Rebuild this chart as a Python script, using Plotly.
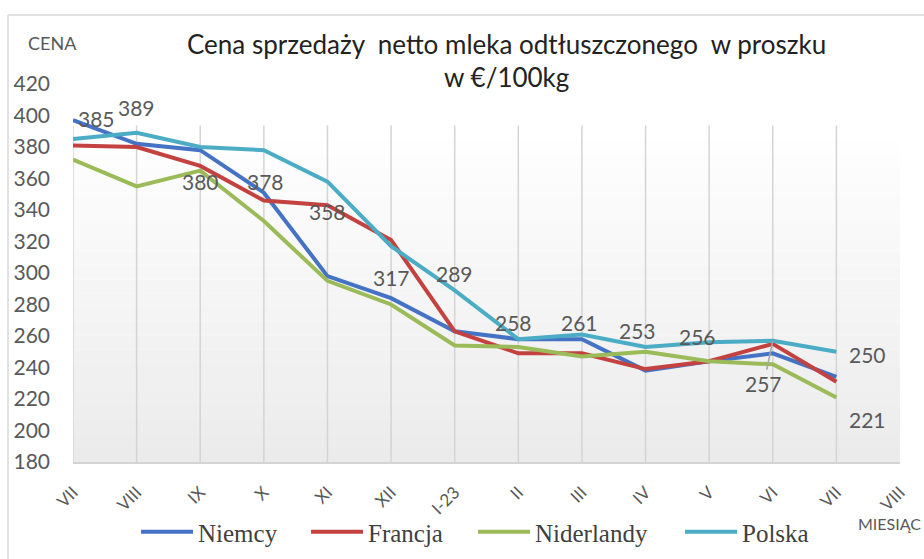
import plotly.graph_objects as go

months = ["VII", "VIII", "IX", "X", "XI", "XII", "I-23", "II", "III", "IV", "V", "VI", "VII", "VIII"]
niemcy = [397, 382, 378, 351, 298, 284, 263, 258, 258, 238, 244, 249, 234]
francja = [381, 380, 368, 346, 343, 321, 263, 249, 249, 239, 244, 255, 231]
niderlandy = [372, 355, 365, 333, 295, 280, 254, 253, 247, 250, 244, 242, 221]
polska = [385, 389, 380, 378, 358, 317, 289, 258, 261, 253, 256, 257, 250]
y_ticks = [180, 200, 220, 240, 260, 280, 300, 320, 340, 360, 380, 400, 420]

series = [
    ("Niemcy", niemcy, "#4472C4"),
    ("Francja", francja, "#C3423F"),
    ("Niderlandy", niderlandy, "#9BBB59"),
    ("Polska", polska, "#4BACC6"),
]
legend_left_px = [136, 306, 473, 680]

W, H = 924, 559
L, R, T, B = 73, 900, 84, 462


def px(x):
    return (x - L) / (R - L)


def py(y):
    return (B - y) / (B - T)


fig = go.Figure()

legend_ids = ["legend", "legend2", "legend3", "legend4"]
for (name, vals, col), lid in zip(series, legend_ids):
    fig.add_trace(go.Scatter(
        x=list(range(len(vals))), y=vals, name=name, mode="lines",
        line=dict(color=col, width=4), cliponaxis=False, legend=lid,
    ))

shapes = []
n = 24
top_frac = 0.89
for k in range(n):
    c0 = k / n
    g = int(round(235 + (255 - 235) * (c0 + 0.5 / n)))
    shapes.append(dict(type="rect", xref="x domain", yref="y domain",
                       x0=0, x1=1, y0=top_frac * k / n, y1=top_frac * (k + 1) / n,
                       fillcolor=f"rgb({g},{g},{g})", line=dict(width=0), layer="below"))
for i in range(len(months) - 1):
    shapes.append(dict(type="line", xref="x", yref="y domain", x0=i, x1=i,
                       y0=0, y1=top_frac, line=dict(color="#D4D4D4", width=1.5),
                       layer="below"))
shapes.append(dict(type="line", xref="paper", yref="paper", x0=px(8), x1=px(W),
                   y0=py(15), y1=py(15), line=dict(color="#D9D9D9", width=1.5)))
shapes.append(dict(type="line", xref="paper", yref="paper", x0=px(8), x1=px(8),
                   y0=py(15), y1=py(H), line=dict(color="#D9D9D9", width=1.5)))

label_font = dict(family="Lato, sans-serif", size=21, color="#595959")
offsets = [(23, -21), (0, -25), (0, 34), (2, 31), (0, 30), (0, 31), (0, -17),
           (-5, -17), (-2, -12), (-8, -17), (-12, -6), None, (31, 3)]
annotations = []
for i, v in enumerate(polska):
    off = offsets[i]
    if off is None:
        annotations.append(dict(x=i, y=v, xref="x", yref="y", text=str(v),
                                showarrow=True, arrowhead=0, arrowwidth=1.5,
                                arrowcolor="#A6A6A6", ax=-9, ay=43,
                                font=label_font, standoff=0))
    else:
        annotations.append(dict(x=i, y=v, xref="x", yref="y", text=str(v),
                                showarrow=False, xshift=off[0], yshift=-off[1],
                                font=label_font))
last = len(niderlandy) - 1
annotations.append(dict(x=last, y=niderlandy[last], xref="x", yref="y",
                        text=str(niderlandy[last]), showarrow=False,
                        xshift=31, yshift=-22, font=label_font))
annotations.append(dict(x=px(26), y=py(43), xref="paper", yref="paper", text="CENA",
                        showarrow=False, xanchor="left", yanchor="middle",
                        font=dict(family="Lato, sans-serif", size=18, color="#595959")))
annotations.append(dict(x=px(856), y=py(523), xref="paper", yref="paper", text="MIESIĄC",
                        showarrow=False, xanchor="left", yanchor="middle",
                        font=dict(family="Lato, sans-serif", size=16, color="#595959")))
title_font = dict(family="Lato, sans-serif", size=26, color="#222222")
annotations.append(dict(x=px(506), y=py(44), xref="paper", yref="paper",
                        text="Cena sprzedaży  netto mleka odtłuszczonego  w proszku",
                        showarrow=False, xanchor="center", yanchor="middle", font=title_font))
annotations.append(dict(x=px(506), y=py(77), xref="paper", yref="paper",
                        text="w €/100kg",
                        showarrow=False, xanchor="center", yanchor="middle", font=title_font))

legend_common = dict(orientation="h", yanchor="middle", y=py(532), xanchor="left",
                     font=dict(family="Liberation Serif, serif", size=25, color="#404040"),
                     bgcolor="rgba(0,0,0,0)", itemwidth=52)

layout_legends = {}
for lid, lx in zip(legend_ids, legend_left_px):
    layout_legends[lid] = dict(legend_common, x=px(lx))

fig.update_layout(
    width=W, height=H,
    margin=dict(l=L, r=W - R, t=T, b=H - B, autoexpand=False),
    paper_bgcolor="white", plot_bgcolor="white",
    showlegend=True,
    shapes=shapes,
    annotations=annotations,
    **layout_legends,
)

fig.update_xaxes(range=[0, len(months) - 1], tickmode="array",
                 tickvals=list(range(len(months))), ticktext=months,
                 tickangle=-45, showgrid=False, zeroline=False, automargin=False,
                 showline=True, linecolor="#D4D4D4", linewidth=1.5, ticks="",
                 ticklabelstandoff=12,
                 tickfont=dict(family="Lato, sans-serif", size=17, color="#595959"))
fig.update_yaxes(range=[180, 420], tickmode="array", tickvals=y_ticks,
                 showgrid=False, zeroline=False, showline=False, ticks="",
                 automargin=False, ticklabelstandoff=22,
                 tickfont=dict(family="Lato, sans-serif", size=21, color="#595959"))

fig.write_html("out.html", config={"displayModeBar": False},
               post_script="document.body.style.margin='0';")
